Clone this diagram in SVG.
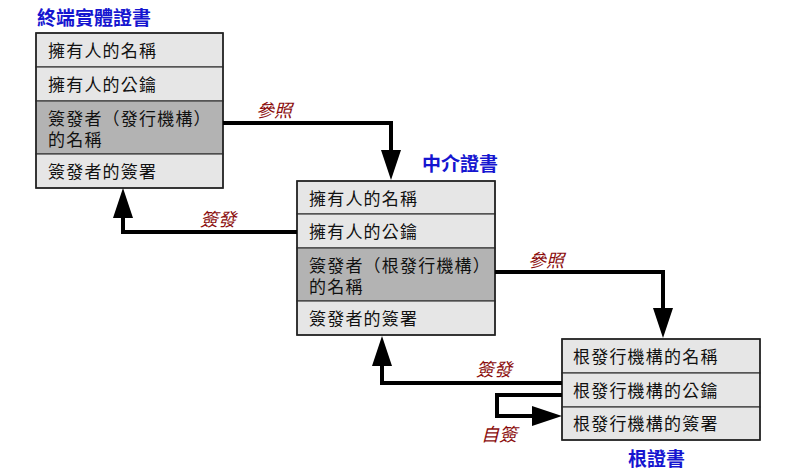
<svg xmlns="http://www.w3.org/2000/svg" width="800" height="470" viewBox="0 0 800 470">
<style>
.bg{fill:#ffffff}
.l{fill:#e6e6e6;stroke:#3a3a3a;stroke-width:1.2}
.d{fill:#b3b3b3;stroke:#3a3a3a;stroke-width:1.2}
.frame{fill:none;stroke:#222;stroke-width:1.6}
.t{font-family:"Liberation Sans","Noto Sans CJK TC",sans-serif;font-size:17px;letter-spacing:1.2px;fill:#111}
.title{font-family:"Liberation Sans","Noto Sans CJK TC",sans-serif;font-size:19px;font-weight:bold;fill:#1515d0}
.lab{font-family:"Liberation Sans","Noto Sans CJK TC",sans-serif;font-size:18px;font-style:italic;fill:#8b0d0d}
.c{fill:none;stroke:#000;stroke-width:4;stroke-linejoin:miter}
</style>
<defs>
<marker id="ah" markerUnits="userSpaceOnUse" markerWidth="30" markerHeight="20" refX="0" refY="10" orient="auto" overflow="visible">
<path d="M0,0 L30,10 L0,20 z" fill="#000"/>
</marker>
</defs>
<rect class="bg" x="0" y="0" width="800" height="470"/>

<g id="end-entity">
<text class="title" x="37" y="25">終端實體證書</text>
<rect class="l" x="36" y="33" width="187" height="34"/>
<rect class="l" x="36" y="67" width="187" height="34"/>
<rect class="d" x="36" y="101" width="187" height="53"/>
<rect class="l" x="36" y="154" width="187" height="34"/>
<rect class="frame" x="36" y="33" width="187" height="155"/>
<text class="t" x="48" y="57">擁有人的名稱</text>
<text class="t" x="48" y="91">擁有人的公鑰</text>
<text class="t" x="48" y="125">簽發者（發行機構）</text>
<text class="t" x="48" y="146">的名稱</text>
<text class="t" x="48" y="178">簽發者的簽署</text>
</g>

<g id="intermediate">
<text class="title" x="422" y="171">中介證書</text>
<rect class="l" x="297" y="181" width="198" height="33"/>
<rect class="l" x="297" y="214" width="198" height="34"/>
<rect class="d" x="297" y="248" width="198" height="53"/>
<rect class="l" x="297" y="301" width="198" height="34"/>
<rect class="frame" x="297" y="181" width="198" height="154"/>
<text class="t" x="309" y="205">擁有人的名稱</text>
<text class="t" x="309" y="238">擁有人的公鑰</text>
<text class="t" x="309" y="272">簽發者（根發行機構）</text>
<text class="t" x="309" y="293">的名稱</text>
<text class="t" x="309" y="325">簽發者的簽署</text>
</g>

<g id="root">
<rect class="l" x="562" y="339" width="198" height="34"/>
<rect class="l" x="562" y="373" width="198" height="34"/>
<rect class="l" x="562" y="407" width="198" height="33"/>
<rect class="frame" x="562" y="339" width="198" height="101"/>
<text class="t" x="573" y="363">根發行機構的名稱</text>
<text class="t" x="573" y="397">根發行機構的公鑰</text>
<text class="t" x="573" y="430">根發行機構的簽署</text>
<text class="title" x="628" y="466">根證書</text>
</g>

<g id="connectors">
<path class="c" d="M223,123 H391 V150" marker-end="url(#ah)"/>
<path class="c" d="M297,232 H123 V218" marker-end="url(#ah)"/>
<path class="c" d="M495,272 H663 V308" marker-end="url(#ah)"/>
<path class="c" d="M562,383 H382 V366" marker-end="url(#ah)"/>
<path class="c" d="M562,395 H497 V416 H532" marker-end="url(#ah)"/>
<text class="lab" x="256" y="117">參照</text>
<text class="lab" x="200" y="226">簽發</text>
<text class="lab" x="528" y="267">參照</text>
<text class="lab" x="476" y="376">簽發</text>
<text class="lab" x="481" y="441">自簽</text>
</g>
</svg>
